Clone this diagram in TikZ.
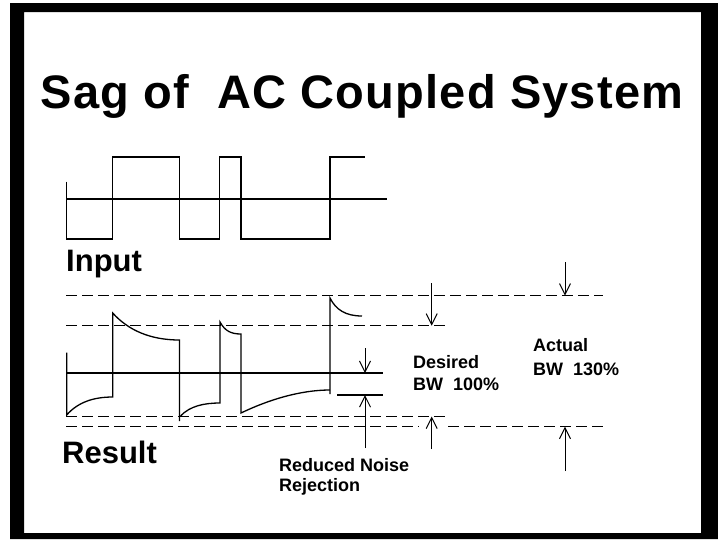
\documentclass[tikz,border=0pt]{standalone}
\usepackage{fontspec}
\setmainfont{Liberation Sans}
\usetikzlibrary{arrows.meta}

\begin{document}
\begin{tikzpicture}[
    x=1pt, y=-1pt,
    wave/.style={line width=1.3pt, line join=miter},
    axis/.style={line width=1.8pt},
    level/.style={line width=1pt, dash pattern=on 11pt off 5pt},
    dim/.style={-{Straight Barb[length=11pt,width=11pt]}, line width=1pt},
    heading/.style={inner sep=0pt, font=\bfseries\fontsize{47}{50}\selectfont\addfontfeatures{LetterSpace=2.5}},
    tag/.style={inner sep=0pt, anchor=base west, font=\bfseries\fontsize{31}{34}\selectfont},
    note/.style={inner sep=0pt, anchor=north west, align=left, font=\bfseries\fontsize{18}{22}\selectfont}
]
\useasboundingbox (0,0) rectangle (718,539);

% Frame
\fill[even odd rule] (10,3) rectangle (718,539) (24,12) rectangle (701,533);

% Title
\node[heading, anchor=base] (title) at (362,108) {Sag of\ \ AC Coupled System};

% Input square wave
\draw[axis] (66,199.3) -- (387,199.3);
\draw[wave] (66.7,181.7) -- (66.7,239) -- (112.7,239) -- (112.7,157) -- (179.3,157)
    -- (179.3,239) -- (219.3,239) -- (219.3,157) -- (241,157) -- (241,239)
    -- (330,239) -- (330,157) -- (365,157);
\node[tag] (input) at (66,271.5) {Input};

% Levels of the result
\draw[level] (66,295.7) -- (603,295.7);
\draw[level] (66,325.7) -- (450,325.7);
\draw[level] (66,416) -- (446,416);
\draw[level] (66,426.7) -- (419,426.7);
\draw[level] (448,426.7) -- (603,426.7);

% Result (sagging wave)
\draw[axis] (66,373) -- (383,373);
\draw[wave] (337,395) -- (383,395);
\draw[wave] (66.7,352.7) -- (66.7,415)
    .. controls (78,402) and (94,397) .. (112.7,397) -- (112.7,313)
    .. controls (128,330) and (150,340) .. (179.5,340) -- (179.5,421);
\draw[wave] (180.5,416) .. controls (190,406) and (204,403) .. (220,403) -- (220,322)
    .. controls (225,331) and (231,334) .. (241,334) -- (241,413)
    .. controls (268,400) and (300,390) .. (330,390);
\draw[wave] (330,394) -- (330,298)
    .. controls (336,310) and (346,316) .. (362,316);
\node[tag] (result) at (62,463) {Result};

% Dimension arrows
\coordinate (aTop) at (431.7,283);
\coordinate (aEnd) at (431.7,325.7);
\coordinate (bTop) at (565,262);
\coordinate (bEnd) at (565,295.7);
\coordinate (cTop) at (365,348);
\coordinate (cEnd) at (365,373);
\coordinate (dBot) at (365,448);
\coordinate (dEnd) at (365,395);
\coordinate (eBot) at (431.7,449);
\coordinate (eEnd) at (431.7,416.5);
\coordinate (fBot) at (565,471);
\coordinate (fEnd) at (565,426.7);
\draw[dim] (aTop) -- (aEnd);
\draw[dim] (bTop) -- (bEnd);
\draw[dim] (cTop) -- (cEnd);
\draw[dim] (dBot) -- (dEnd);
\draw[dim] (eBot) -- (eEnd);
\draw[dim] (fBot) -- (fEnd);

% Notes
\node[note] (desired) at (413,355) {Desired\\BW\ \ 100\%};
\node[note, font=\bfseries\fontsize{18}{24}\selectfont] (actual) at (533,338) {Actual\\BW\ \ 130\%};
\node[note, font=\bfseries\fontsize{18}{20}\selectfont] (noise) at (279,458) {Reduced Noise\\Rejection};

\end{tikzpicture}
\end{document}
